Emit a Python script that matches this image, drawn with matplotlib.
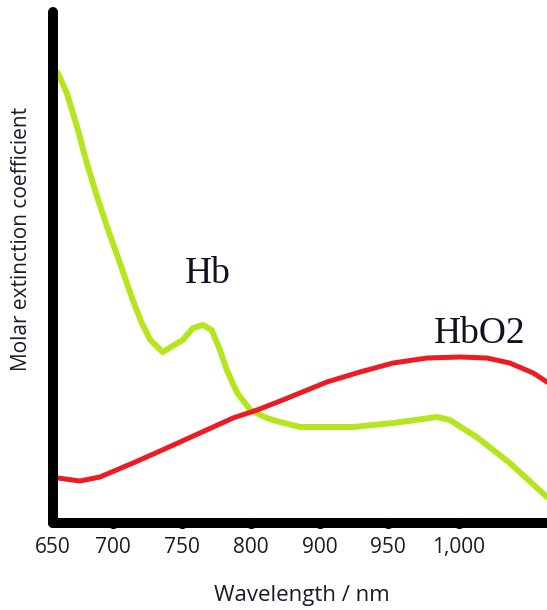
import numpy as np
import matplotlib.pyplot as plt

# x in tick-slot units (650 at the axis), y in arbitrary absorbance units
tick_pos = [0.0, 0.87, 1.87, 2.87, 3.87, 4.86, 5.88]
tick_labels = ['650', '700', '750', '800', '900', '950', '1,000']

hb_x = [0.07, 0.20, 0.35, 0.49, 0.64, 0.80, 0.97, 1.14, 1.28, 1.41, 1.59, 1.88, 2.03,
        2.17, 2.30, 2.42, 2.52, 2.67, 2.86, 3.10, 3.29, 3.58, 4.35, 4.93, 5.57, 5.75,
        6.14, 6.62, 7.16]
hb_y = [4.50, 4.30, 3.96, 3.60, 3.26, 2.93, 2.60, 2.26, 2.01, 1.83, 1.71, 1.83, 1.95,
        1.98, 1.93, 1.73, 1.53, 1.30, 1.13, 1.05, 1.01, 0.96, 0.96, 1.00, 1.06, 1.03,
        0.86, 0.60, 0.26]

hbo2_x = [0.07, 0.39, 0.68, 1.16, 1.65, 2.13, 2.61, 2.96, 3.33, 3.97, 4.45, 4.93, 5.42,
          5.90, 6.29, 6.62, 6.96, 7.16]
hbo2_y = [0.45, 0.42, 0.46, 0.60, 0.75, 0.90, 1.05, 1.13, 1.23, 1.41, 1.51, 1.60, 1.65,
          1.66, 1.65, 1.60, 1.50, 1.41]

fig = plt.figure(figsize=(5.47, 6.10), dpi=100)
ax = fig.add_axes([53/547, 1-523/610, 1-53/547, 511/610])

ax.plot(hb_x, hb_y, color='#b5e61d', lw=4.3, solid_joinstyle='round', solid_capstyle='round')
ax.plot(hbo2_x, hbo2_y, color='#ed1c24', lw=3.6, solid_joinstyle='round', solid_capstyle='round')

ax.text(2.25, 2.49, 'Hb', family='Liberation Serif', fontsize=27, ha='center', va='center', color='#111122')
ax.text(6.19, 1.89, 'HbO2', family='Liberation Serif', fontsize=27, ha='center', va='center', color='#111122')

ax.set_xlim(0, 7.16)
ax.set_ylim(0, 5.11)

for s in ['top', 'right']:
    ax.spines[s].set_visible(False)
for s in ['left', 'bottom']:
    ax.spines[s].set_linewidth(7.2)
    ax.spines[s].set_capstyle('round')

# dot-shaped tick marks sitting on the axis
ax.plot(tick_pos[1:], [0]*6, 'o', color='black', ms=7, clip_on=False, zorder=5)

ax.set_xticks(tick_pos)
ax.set_xticklabels(tick_labels, family='Open Sans', fontsize=15, color='#1a1a2a')
ax.tick_params(axis='x', length=0, pad=10)
ax.set_yticks([])

fig.text(302/547, 1-595/610, 'Wavelength / nm', family='Open Sans', fontsize=16,
         ha='center', va='center', color='#1a1a2a')
fig.text(22/547, 1-239/610, 'Molar extinction coefficient', family='Open Sans', fontsize=15,
         rotation=90, ha='center', va='center', color='#1a1a2a')

fig.savefig('out.png', dpi=100)
